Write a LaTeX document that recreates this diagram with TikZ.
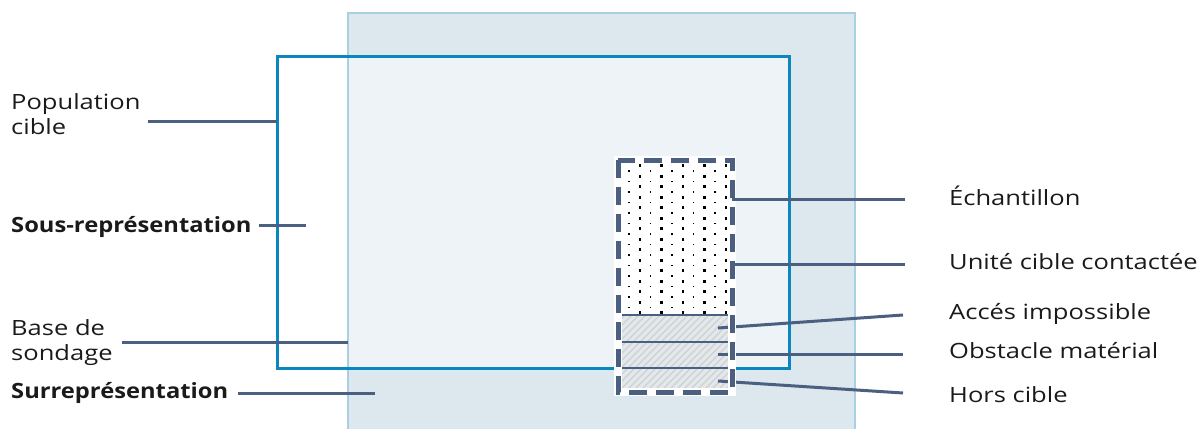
\documentclass[tikz,border=0pt]{standalone}
\usepackage{fontspec}
\setmainfont{Open Sans}[FakeStretch=1.215]
\newfontfamily\boldlbl{Open Sans}[FakeStretch=1.13]
\definecolor{framefill}{HTML}{DCE7EE}
\definecolor{frameedge}{HTML}{A8D0E2}
\definecolor{innerfill}{HTML}{EDF3F6}
\definecolor{popc}{HTML}{0B87C0}
\definecolor{leadc}{HTML}{4B6080}
\definecolor{hatchfill}{HTML}{E4E8EA}
\definecolor{hatchline}{HTML}{CAD1D5}
\definecolor{txt}{HTML}{1A1A1A}
\tikzset{
  leader/.style={draw=leadc, line width=3pt},
  lbl/.style={anchor=base west, inner sep=0pt, align=left, text=txt},
  boldlabel/.style={lbl, font=\fontsize{21}{25}\boldlbl\bfseries},
  sepline/.style={leadc, line width=2.6pt},
}
\begin{document}
\begin{tikzpicture}[x=1pt,y=-1pt,font=\fontsize{21}{25}\selectfont]
\useasboundingbox (0,0) rectangle (1198,428);

% sampling frame (base de sondage)
\fill[framefill] (348,13) rectangle (855,440);
% overlap of frame and target population
\fill[innerfill] (348,57) rectangle (789,368);
\draw[frameedge, line width=2pt] (348,440) -- (348,13) -- (855,13) -- (855,440);

% target population
\draw[popc, line width=3pt] (277,57) rectangle (789,368);

% sample: dotted part
\fill[white] (618,160) rectangle (732,315);
\begin{scope}
  \clip (619,161) rectangle (731,314);
  \foreach \j in {0,...,14}{
    \foreach \i in {0,...,4}{
      \fill (640+21.5*\i-1.4,165.7+10.5*\j-1.4) rectangle ++(2.8,2.8);
      \fill (629+21.5*\i-0.9,160.5+10.5*\j-0.9) rectangle ++(1.8,1.8);
    }
  }
\end{scope}
% sample: hatched non-response parts
\fill[hatchfill] (618,315) rectangle (732,392);
\begin{scope}
  \clip (618,315) rectangle (732,392);
  \foreach \k in {0,...,28}{
    \draw[hatchline, line width=1.3pt] (540+7*\k,400) -- ++(90,-90);
  }
\end{scope}
\draw[sepline] (618,315) -- (732,315);
\draw[sepline] (618,342) -- (732,342);
\draw[sepline] (618,368) -- (732,368);

% leaders starting inside the sample box
\coordinate (accA) at (718,328);
\coordinate (obsA) at (718,354);
\coordinate (horA) at (718,381);
\coordinate (accB) at (903,315);
\coordinate (obsB) at (903,354);
\coordinate (horB) at (903,393);
\draw[leader] (accA) -- (accB);
\draw[leader] (obsA) -- (obsB);
\draw[leader] (horA) -- (horB);

% dashed outline of the sample
\draw[white, line width=8pt] (618,160) rectangle (732,392);
\draw[leadc, line width=5pt, dash pattern=on 18pt off 9pt] (618,160) rectangle (732,392);

% other leaders
\coordinate (echA) at (732,199);
\coordinate (echB) at (905,199);
\coordinate (uniA) at (732,264);
\coordinate (uniB) at (905,264);
\coordinate (popA) at (148,121.5);
\coordinate (popB) at (277,121.5);
\coordinate (sousA) at (259,225);
\coordinate (sousB) at (306,225);
\coordinate (baseA) at (122,342);
\coordinate (baseB) at (348,342);
\coordinate (surA) at (238,393.5);
\coordinate (surB) at (375,393.5);
\draw[leader] (echA) -- (echB);
\draw[leader] (uniA) -- (uniB);
\draw[leader] (popA) -- (popB);
\draw[leader] (sousA) -- (sousB);
\draw[leader] (baseA) -- (baseB);
\draw[leader] (surA) -- (surB);

% labels (base anchor of a two-line label is its last line)
\node[lbl] (pop) at (11,134) {Population\\cible};
\node[boldlabel] (sous) at (11,232) {Sous-représentation};
\node[lbl] (base) at (11,360) {Base de\\sondage};
\node[boldlabel] (sur) at (11,398) {Surreprésentation};
\node[lbl] (ech) at (949,205) {Échantillon};
\node[lbl] (uni) at (949,269) {Unité cible contactée};
\node[lbl] (acc) at (949,319) {Accés impossible};
\node[lbl] (obs) at (949,358) {Obstacle matérial};
\node[lbl] (hor) at (949,402) {Hors cible};
\end{tikzpicture}
\end{document}
